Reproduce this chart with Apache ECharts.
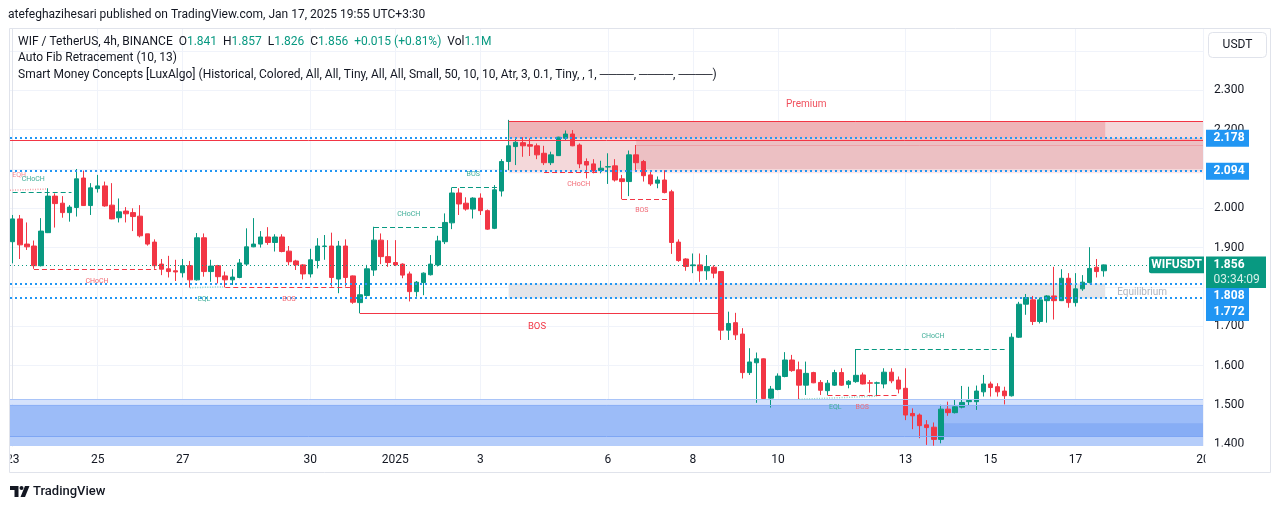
<!DOCTYPE html>
<html><head><meta charset="utf-8">
<script src="https://cdn.jsdelivr.net/npm/echarts@6.0.0/dist/echarts.min.js"></script>
<style>html,body{margin:0;padding:0;background:#fff;}#c{width:1281px;height:509px;}</style>
</head><body><div id="c"></div>
<script>
// ---------------- data (WIF / TetherUS, 4h, BINANCE; first candle 2024-12-23 00:00 UTC) ----------------
// each candle: [open, high, low, close]
const ohlc = [
[1.915,1.983,1.860,1.973],[1.973,1.983,1.871,1.907],[1.909,1.964,1.894,1.902],[1.904,1.918,1.846,1.854],
[1.854,1.975,1.852,1.942],[1.938,2.051,1.937,2.031],[2.031,2.038,1.951,2.012],[2.013,2.031,1.976,1.989],
[1.989,2.008,1.966,2.003],[2.002,2.100,1.979,2.075],[2.077,2.096,2.006,2.007],[2.007,2.064,1.983,2.052],
[2.050,2.085,2.040,2.057],[2.057,2.068,2.004,2.006],[2.008,2.064,1.972,1.973],[1.976,2.025,1.964,1.991],
[1.993,2.003,1.964,1.986],[1.989,2.000,1.942,1.979],[1.980,2.008,1.926,1.930],[1.935,1.935,1.905,1.909],
[1.914,1.921,1.846,1.854],[1.858,1.871,1.830,1.845],[1.846,1.879,1.824,1.839],[1.841,1.869,1.815,1.838],
[1.836,1.871,1.824,1.854],[1.854,1.866,1.798,1.818],[1.818,1.937,1.816,1.925],[1.925,1.936,1.826,1.839],
[1.839,1.869,1.813,1.853],[1.854,1.856,1.809,1.826],[1.828,1.839,1.799,1.818],[1.818,1.845,1.805,1.825],
[1.824,1.871,1.822,1.861],[1.858,1.949,1.854,1.902],[1.902,1.975,1.901,1.909],[1.909,1.942,1.900,1.927],
[1.927,1.952,1.907,1.913],[1.913,1.934,1.890,1.927],[1.927,1.934,1.888,1.890],[1.891,1.904,1.855,1.864],
[1.866,1.869,1.843,1.856],[1.856,1.858,1.819,1.833],[1.833,1.897,1.824,1.869],[1.867,1.924,1.847,1.904],
[1.903,1.932,1.869,1.904],[1.904,1.938,1.801,1.824],[1.820,1.917,1.784,1.904],[1.904,1.921,1.801,1.824],
[1.828,1.829,1.757,1.761],[1.760,1.805,1.733,1.780],[1.778,1.856,1.775,1.846],[1.843,1.953,1.828,1.919],
[1.919,1.936,1.858,1.877],[1.877,1.919,1.851,1.862],[1.862,1.919,1.853,1.856],[1.858,1.860,1.822,1.830],
[1.833,1.839,1.763,1.788],[1.788,1.815,1.775,1.812],[1.811,1.837,1.779,1.835],[1.831,1.881,1.829,1.858],
[1.856,1.930,1.852,1.917],[1.915,1.987,1.909,1.964],[1.963,2.053,1.947,2.039],[2.039,2.051,1.983,2.011],
[2.013,2.028,1.994,1.998],[1.998,2.028,1.974,2.026],[2.026,2.038,1.983,1.994],[1.994,1.997,1.945,1.947],
[1.949,2.059,1.947,2.047],[2.044,2.125,2.030,2.119],[2.119,2.225,2.097,2.159],[2.157,2.178,2.110,2.168],
[2.167,2.181,2.131,2.159],[2.162,2.178,2.133,2.158],[2.159,2.165,2.125,2.136],[2.140,2.159,2.110,2.116],
[2.116,2.144,2.110,2.136],[2.134,2.182,2.133,2.181],[2.178,2.198,2.174,2.189],[2.189,2.199,2.158,2.159],
[2.161,2.165,2.102,2.113],[2.119,2.127,2.076,2.110],[2.113,2.125,2.089,2.095],[2.096,2.121,2.089,2.102],
[2.105,2.140,2.062,2.106],[2.108,2.125,2.068,2.072],[2.075,2.085,2.023,2.068],[2.068,2.147,2.031,2.136],
[2.136,2.161,2.093,2.116],[2.119,2.123,2.068,2.083],[2.085,2.097,2.057,2.062],[2.064,2.081,2.051,2.072],
[2.072,2.097,2.038,2.040],[2.042,2.047,1.884,1.913],[1.914,1.921,1.864,1.867],[1.871,1.873,1.841,1.852],
[1.854,1.885,1.835,1.856],[1.856,1.885,1.813,1.841],[1.841,1.881,1.818,1.852],[1.850,1.855,1.822,1.835],
[1.839,1.839,1.665,1.690],[1.690,1.737,1.665,1.707],[1.709,1.734,1.665,1.678],[1.680,1.695,1.567,1.582],
[1.582,1.644,1.576,1.609],[1.607,1.633,1.505,1.617],[1.617,1.618,1.514,1.516],[1.517,1.548,1.493,1.540],
[1.539,1.580,1.537,1.573],[1.572,1.634,1.570,1.614],[1.614,1.627,1.584,1.587],[1.589,1.610,1.514,1.550],
[1.550,1.610,1.525,1.580],[1.582,1.584,1.555,1.556],[1.557,1.563,1.525,1.537],[1.536,1.563,1.525,1.555],
[1.550,1.589,1.548,1.582],[1.582,1.593,1.548,1.550],[1.552,1.563,1.542,1.560],[1.559,1.642,1.556,1.575],
[1.576,1.582,1.552,1.553],[1.556,1.563,1.531,1.555],[1.555,1.559,1.522,1.556],[1.553,1.593,1.542,1.583],
[1.583,1.593,1.555,1.561],[1.563,1.572,1.529,1.540],[1.542,1.593,1.461,1.474],[1.478,1.491,1.438,1.472],
[1.474,1.478,1.415,1.447],[1.449,1.461,1.398,1.442],[1.443,1.455,1.396,1.412],[1.412,1.500,1.402,1.489],
[1.489,1.508,1.472,1.480],[1.480,1.514,1.478,1.495],[1.494,1.548,1.491,1.506],[1.508,1.546,1.497,1.511],
[1.508,1.549,1.487,1.535],[1.533,1.576,1.521,1.553],[1.553,1.559,1.521,1.544],[1.546,1.555,1.521,1.533],
[1.535,1.546,1.501,1.523],[1.523,1.682,1.521,1.672],[1.672,1.762,1.670,1.756],[1.756,1.782,1.729,1.773],
[1.767,1.777,1.703,1.712],[1.712,1.773,1.707,1.767],[1.765,1.779,1.709,1.777],[1.777,1.851,1.717,1.765],
[1.765,1.845,1.764,1.822],[1.822,1.835,1.747,1.760],[1.760,1.835,1.750,1.795],[1.795,1.830,1.790,1.812],
[1.811,1.901,1.809,1.847],[1.850,1.871,1.824,1.839],[1.841,1.857,1.826,1.856]
];
const xTickIdx  = [0, 12, 24, 42, 54, 66, 84, 96, 108, 126, 138, 150, 168];
const xTickText = ['23','25','27','30','2025','3','6','8','10','13','15','17','20'];
const yTickValues  = [1.4,1.5,1.6,1.7,1.8,1.9,2.0,2.1,2.2,2.3,2.4];
const yLabelValues = [1.4,1.5,1.6,1.7,1.8,1.9,2.0,2.1,2.2,2.3];
const fibLevels = [2.178, 2.094, 1.808, 1.772];
const lastPrice = 1.856;
const strongHigh = 2.174;
const premiumZone = [70, 2.221, 2.094];
const equilibriumZone = [70, 154.2, 1.8086, 1.7705];
const discountZone = [1.514, 1.5003, 1.4206];
const bigBos = [49, 100, 1.733];
// structure lines: [x1, price1, x2, price2, kind]
const structLines = [
  [-0.38, 2.046, 4.8, 2.049, 'eqh'],
  [0, 2.041, 8.3, 2.041, 'bull'],
  [3, 1.846, 20.3, 1.846, 'bear'],
  [25, 1.798, 29.7, 1.800, 'eql'],
  [30, 1.799, 47.6, 1.799, 'bear'],
  [51, 1.953, 60.7, 1.953, 'bull'],
  [62, 2.053, 68.8, 2.053, 'bull'],
  [75, 2.093, 82.9, 2.093, 'bear'],
  [86, 2.023, 92.5, 2.023, 'bear'],
  [111, 1.514, 122, 1.522, 'eql'],
  [115, 1.525, 125, 1.525, 'bear'],
  [119, 1.642, 140, 1.642, 'bull']
];
// labels: [x, price, text, kind]
const structLabels = [
  [0.9, 2.083, 'EQH', 'eqh'],
  [2.9, 2.073, 'CHoCH', 'bull'],
  [11.9, 1.815, 'CHoCH', 'bear'],
  [27.0, 1.768, 'EQL', 'eql'],
  [39.0, 1.768, 'BOS', 'bear'],
  [55.9, 1.984, 'CHoCH', 'bull'],
  [65.0, 2.086, 'BOS', 'bull'],
  [79.9, 2.061, 'CHoCH', 'bear'],
  [88.8, 1.994, 'BOS', 'bear'],
  [116.1, 1.495, 'EQL', 'eql'],
  [119.9, 1.495, 'BOS', 'bear'],
  [129.9, 1.674, 'CHoCH', 'bull'],
  [74.0, 1.698, 'BOS', 'bosBig'],
  [112.0, 2.264, 'Premium', 'premium'],
  [155.9, 1.787, 'Equilibrium', 'equil']
];

// ---------------- layout / styles ----------------
const xMin = -0.38, xMax = 168;
const yMin = 1.3952, yMax = 2.4562;
const UP = '#089981', DOWN = '#f23645', BLUE = '#2196f3', TXT = '#131722';
const FONT = 'Roboto, "Noto Sans", sans-serif';
const zoneFill = {premBase:'#f4d8da', premTop:'#efb4b8', premInner:'#ecc0c3', premEdge:'#fde6e7',
  equil:'#e4e5e9', discTop:'#d5e2fc', discMain:'#9cbcf8', discLow:'#b5cdfa', discDeep:'#87adf5'};
const lineStyles = {
  level:{color:BLUE, width:2, dash:[2,3]},
  last:{color:UP, width:1, dash:[1,3]},
  red:{color:DOWN, width:1, dash:null},
  premInner:{color:'#eea2a8', width:1, dash:null},
  discA:{color:'#a9c4f8', width:1, dash:null},
  discB:{color:'#8cb0f6', width:1, dash:null},
  discC:{color:'#7ea6f4', width:1, dash:null},
  bull:{color:UP, width:1, dash:[5,3]},
  bear:{color:DOWN, width:1, dash:[5,3]},
  eqh:{color:'#f7a1a8', width:1.5, dash:[1,1.5]},
  eql:{color:'#8fd3c6', width:1.5, dash:[1,1.5]}
};
const labelStyles = {
  bull:{color:'#3fae98', size:7, align:'center'},
  bear:{color:'#f26b76', size:7, align:'center'},
  eqh:{color:'#f58a93', size:7, align:'center'},
  eql:{color:'#3fae98', size:7, align:'center'},
  bosBig:{color:DOWN, size:9.5, align:'center'},
  premium:{color:'#f0505d', size:10, align:'center'},
  equil:{color:'#b2b5be', size:10, align:'left'}
};

// ---------------- build ----------------
const candleData = ohlc.map((d, i) => [i, d[0], d[3], d[2], d[1]]);
const zones = [
  [premiumZone[0], xMax, premiumZone[1], premiumZone[2], 'premBase'],
  [premiumZone[0], equilibriumZone[1], premiumZone[1], fibLevels[0], 'premTop'],
  [88, xMax, fibLevels[0], 2.100, 'premInner'],
  [premiumZone[0], xMax, premiumZone[2], 2.089, 'premEdge'],
  [equilibriumZone[0], equilibriumZone[1], equilibriumZone[2], equilibriumZone[3], 'equil'],
  [xMin, xMax, discountZone[0], discountZone[1], 'discTop'],
  [xMin, xMax, discountZone[1], discountZone[2], 'discMain'],
  [xMin, xMax, discountZone[2], yMin - 0.01, 'discLow'],
  [131.1, xMax, 1.4529, discountZone[2], 'discDeep']
];
const lines = [];
lines.push([premiumZone[0], premiumZone[1], xMax, premiumZone[1], 'red']);
lines.push([88, 2.161, xMax, 2.161, 'premInner']);
lines.push([xMin, discountZone[0], xMax, discountZone[0], 'discA']);
lines.push([xMin, discountZone[1], xMax, discountZone[1], 'discB']);
lines.push([xMin, discountZone[2], xMax, discountZone[2], 'discC']);
structLines.forEach(l => lines.push(l));
lines.push([bigBos[0], bigBos[2], bigBos[1], bigBos[2], 'red']);
lines.push([xMin, strongHigh, xMax, strongHigh, 'red']);
fibLevels.forEach(p => lines.push([xMin, p, xMax, p, 'level']));
lines.push([xMin, lastPrice, xMax, lastPrice, 'last']);

const chart = echarts.init(document.getElementById('c'), null, {renderer:'canvas'});
const option = {
  animation:false,
  backgroundColor:'#ffffff',
  textStyle:{fontFamily:FONT},
  grid:{left:10, right:78, top:29, bottom:63, containLabel:false, outerBoundsMode:'none'},
  xAxis:{
    type:'value', min:xMin, max:xMax,
    axisLine:{show:false},
    axisTick:{show:false, customValues:xTickIdx},
    splitLine:{show:true, lineStyle:{color:'#f0f3fa', width:1}},
    axisLabel:{customValues:xTickIdx, color:TXT, fontSize:12, margin:8, fontFamily:FONT,
      formatter:v => { const k = xTickIdx.indexOf(Math.round(v)); return k >= 0 ? xTickText[k] : ''; }}
  },
  yAxis:{
    type:'value', position:'right', min:yMin, max:yMax,
    axisLine:{show:true, lineStyle:{color:'#e0e3eb'}},
    axisTick:{show:false, customValues:yTickValues},
    splitLine:{show:true, lineStyle:{color:'#f0f3fa', width:1}},
    axisLabel:{customValues:yLabelValues, color:TXT, fontSize:12, margin:11, fontFamily:FONT,
      formatter:v => v.toFixed(3)}
  },
  series:[
    {
      type:'custom', name:'zones', z:1, clip:true,
      encode:{x:[0,1], y:[2,3]},
      data:zones.map(z => [z[0], z[1], z[2], z[3]]),
      renderItem:(params, api) => {
        const z = zones[params.dataIndex];
        const a = api.coord([z[0], z[2]]), b = api.coord([z[1], z[3]]);
        return {type:'rect', shape:{x:a[0], y:a[1], width:b[0]-a[0], height:b[1]-a[1]},
          style:{fill:zoneFill[z[4]]}};
      }
    },
    {
      type:'candlestick', name:'WIFUSDT', z:2, barWidth:5,
      data:candleData,
      itemStyle:{color:UP, color0:DOWN, borderColor:UP, borderColor0:DOWN, borderWidth:1}
    },
    {
      type:'custom', name:'lines', z:3, clip:true,
      encode:{x:[0,2], y:[1,3]},
      data:lines.map(l => [l[0], l[1], l[2], l[3]]),
      renderItem:(params, api) => {
        const l = lines[params.dataIndex];
        const st = lineStyles[l[4]];
        const a = api.coord([l[0], l[1]]), b = api.coord([l[2], l[3]]);
        const off = (st.width % 2 === 1) ? 0.5 : 0;
        const ya = Math.round(a[1]) + off, yb = Math.round(b[1]) + off;
        return {type:'line', shape:{x1:a[0], y1:(l[1]===l[3]?ya:a[1]), x2:b[0], y2:(l[1]===l[3]?yb:b[1])},
          style:{stroke:st.color, lineWidth:st.width, lineDash:st.dash}};
      }
    },
    {
      type:'custom', name:'labels', z:4, clip:false,
      encode:{x:0, y:1},
      data:structLabels.map(l => [l[0], l[1]]),
      renderItem:(params, api) => {
        const l = structLabels[params.dataIndex];
        const st = labelStyles[l[3]];
        const p = api.coord([l[0], l[1]]);
        return {type:'text', x:p[0], y:p[1],
          style:{text:l[2], fill:st.color, fontSize:st.size, fontFamily:FONT, align:st.align, verticalAlign:'middle'}};
      }
    }
  ]
};
chart.setOption(option);

// ---------------- overlay graphics (header, price scale labels, frame) ----------------
const yPix = p => chart.convertToPixel({yAxisIndex:0}, p);
const g = [];
// frame
g.push({type:'rect', z:50, silent:true, shape:{x:0, y:446.5, width:10.5, height:26}, style:{fill:'#fff'}});
g.push({type:'rect', z:50, silent:true, shape:{x:1205.5, y:446.5, width:64, height:26}, style:{fill:'#fff'}});
g.push({type:'rect', z:60, silent:true, shape:{x:9.5, y:28.5, width:1261, height:444}, style:{fill:null, stroke:'#e0e3eb', lineWidth:1}});
// header
g.push({type:'text', z:60, x:8, y:15, style:{text:'atefeghazihesari published on TradingView.com, Jan 17, 2025 19:55 UTC+3:30',
  fill:TXT, fontSize:12, fontFamily:FONT, verticalAlign:'middle'}});
const last = ohlc[ohlc.length-1];
const chg = last[3] - last[0];
const legendTxt = '{t|WIF / TetherUS, 4h, BINANCE}  {t|O}{g|' + last[0].toFixed(3) + '}  {t|H}{g|' + last[1].toFixed(3) +
  '}  {t|L}{g|' + last[2].toFixed(3) + '}  {t|C}{g|' + last[3].toFixed(3) + '}  {g|+' + chg.toFixed(3) +
  ' (+' + (chg / last[0] * 100).toFixed(2) + '%)}  {t|Vol}{g|1.1M}';
g.push({type:'text', z:60, x:18, y:42, style:{text:legendTxt, fontSize:12, fontFamily:FONT, verticalAlign:'middle',
  rich:{t:{fill:TXT, fontSize:12, fontFamily:FONT}, g:{fill:UP, fontSize:12, fontFamily:FONT}}}});
g.push({type:'text', z:60, x:18, y:58, style:{text:'Auto Fib Retracement (10, 13)', fill:TXT, fontSize:12, fontFamily:FONT, verticalAlign:'middle'}});
const dash = '\u2500\u2500\u2500\u2500';
g.push({type:'text', z:60, x:18, y:75, style:{text:'Smart Money Concepts [LuxAlgo] (Historical, Colored, All, All, Tiny, All, All, Small, 50, 10, 10, Atr, 3, 0.1, Tiny, , 1, ' + dash + ', ' + dash + ', ' + dash + ')',
  fill:TXT, fontSize:12, fontFamily:FONT, verticalAlign:'middle'}});
// USDT box
g.push({type:'rect', z:60, shape:{x:1208.5, y:32.5, width:58, height:25, r:4}, style:{fill:'#fff', stroke:'#e0e3eb', lineWidth:1}});
g.push({type:'text', z:61, x:1237.5, y:45, style:{text:'USDT', fill:TXT, fontSize:12, fontFamily:FONT, align:'center', verticalAlign:'middle'}});
// price scale labels with simple stacking
const boxes = [
  {p:fibLevels[0], h:17, w:43, fill:BLUE, lines:[fibLevels[0].toFixed(3)]},
  {p:fibLevels[1], h:17, w:43, fill:BLUE, lines:[fibLevels[1].toFixed(3)]},
  {p:lastPrice, h:31.5, w:60, fill:UP, lines:[lastPrice.toFixed(3), '03:34:09']},
  {p:fibLevels[2], h:16, w:43, fill:BLUE, lines:[fibLevels[2].toFixed(3)]},
  {p:fibLevels[3], h:17, w:43, fill:BLUE, lines:[fibLevels[3].toFixed(3)]}
];
let prevBottom = -1e9;
boxes.forEach(b => {
  const yc = yPix(b.p);
  let top = Math.max(yc - 8.5, prevBottom);
  prevBottom = top + b.h;
  g.push({type:'rect', z:70, shape:{x:1206, y:top, width:b.w, height:b.h}, style:{fill:b.fill}});
  b.lines.forEach((t, k) => {
    g.push({type:'text', z:71, x:1213.5, y:top + 8.5 + k * 15, style:{text:t, fill:k === 0 ? '#fff' : '#d7f0ea',
      fontSize:12, fontWeight:k === 0 ? 'bold' : 'normal', fontFamily:FONT, verticalAlign:'middle'}});
  });
});
// series name tag
const yLast = yPix(lastPrice);
g.push({type:'rect', z:70, shape:{x:1149, y:yLast - 8.3, width:55, height:16.6, r:[2,0,0,2]}, style:{fill:UP}});
g.push({type:'text', z:71, x:1176.5, y:yLast, style:{text:'WIFUSDT', fill:'#fff', fontSize:12, fontWeight:'bold', fontFamily:FONT, align:'center', verticalAlign:'middle'}});
// TradingView logo
g.push({type:'polygon', z:60, shape:{points:[[10,486],[18.5,486],[18.5,497],[14.5,497],[14.5,490],[10,490]]}, style:{fill:TXT}});
g.push({type:'circle', z:60, shape:{cx:21.5, cy:488, r:2}, style:{fill:TXT}});
g.push({type:'polygon', z:60, shape:{points:[[25,486],[29.5,486],[25,497],[20.5,497]]}, style:{fill:TXT}});
g.push({type:'text', z:60, x:33, y:491.5, style:{text:'TradingView', fill:TXT, fontSize:13, fontWeight:500, fontFamily:FONT, verticalAlign:'middle'}});
chart.setOption({graphic:{elements:g}});
</script>
</body></html>
